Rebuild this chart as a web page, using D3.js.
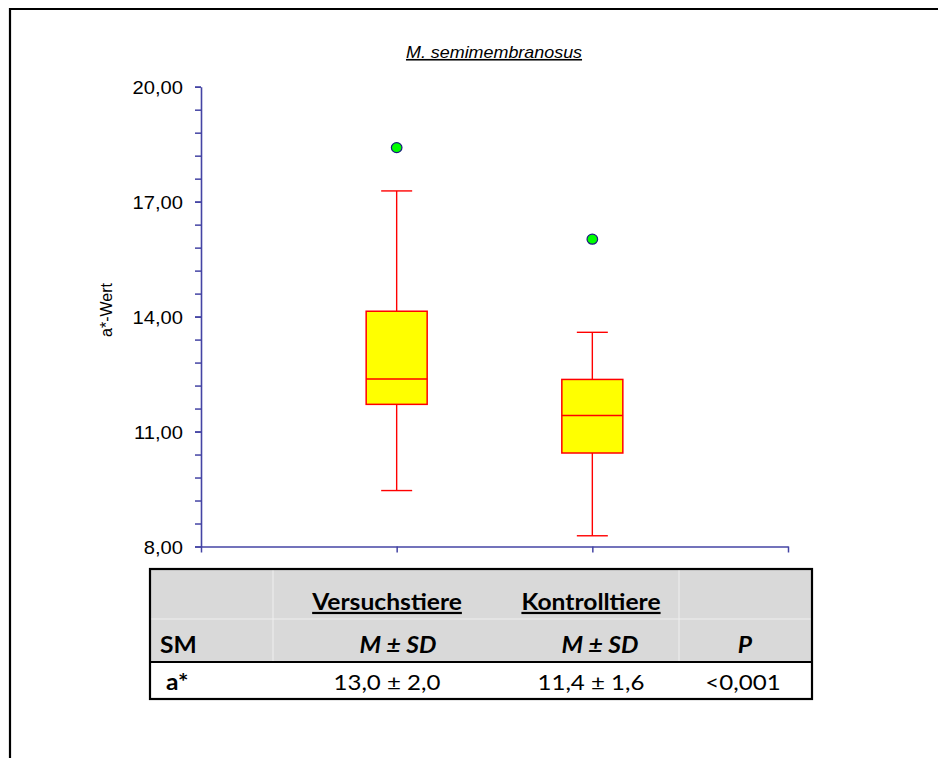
<!DOCTYPE html>
<html>
<head>
<meta charset="utf-8">
<script src="https://cdn.jsdelivr.net/npm/d3@7"></script>
<style>
  html, body { margin: 0; padding: 0; background: #fff; }
  svg { display: block; }
</style>
</head>
<body>
<svg id="chart" width="938" height="758"></svg>
<script>
// a*-Wert, M. semimembranosus: box plot per group plus summary table
const groups = ["Versuchstiere", "Kontrolltiere"];
const groupPos = [1, 2];
const whiskerLow = [9.46, 8.28];
const q1 = [11.71, 10.44];
const median = [12.37, 11.42];
const q3 = [14.14, 12.36];
const whiskerHigh = [17.28, 13.59];
const outliers = [18.41, 16.02];

const yTicks = [8, 11, 14, 17, 20];
const yMinorTicks = d3.range(0, 21).map(i => 8 + i * 0.6);
const xTicks = [0, 1, 2, 3];

const tableMeans = [13.0, 11.4];
const tableSD = [2.0, 1.6];
const pValue = "<0,001";

const de = d3.formatLocale({ decimal: ",", thousands: ".", grouping: [3], currency: ["", " €"] });
const fmt2 = de.format(".2f");
const fmt1 = de.format(".1f");

const svg = d3.select("#chart");
const SX = 1.12; // horizontal text stretch

function stretchedText(parent, x, y, str, opts) {
  const t = parent.append("text")
    .attr("transform", `translate(${x},${y}) scale(${SX},1)`)
    .attr("text-anchor", opts.anchor || "middle")
    .style("font-family", opts.family)
    .style("font-size", opts.size + "px")
    .style("font-weight", opts.weight || "normal")
    .style("font-style", opts.style || "normal")
    .attr("fill", opts.fill || "#000")
    .text(str);
  if (opts.underline) t.style("text-decoration", "underline");
  return t;
}

// outer frame
svg.append("path")
  .attr("d", "M10,760 V9 H940")
  .attr("fill", "none")
  .attr("stroke", "#000")
  .attr("stroke-width", 2.2);

const y = d3.scaleLinear().domain([8, 20]).range([546.5, 86.7]);
const x = d3.scaleLinear().domain([0, 3]).range([201, 788]);
const axisColor = "#4444a4";

// title
stretchedText(svg, 494, 58, "M. semimembranosus",
  { family: "Liberation Sans, Arial, sans-serif", size: 16, style: "italic", underline: true });

// y axis label
svg.append("text")
  .attr("transform", "translate(112,310) rotate(-90)")
  .attr("text-anchor", "middle")
  .style("font-family", "Liberation Sans, Arial, sans-serif")
  .style("font-size", "16px")
  .text("a*-Wert");

// minor y ticks
const yMinor = svg.append("g")
  .attr("transform", `translate(${x(0)},0)`)
  .call(d3.axisLeft(y).tickValues(yMinorTicks).tickSize(6).tickFormat(""));
yMinor.select(".domain").remove();
yMinor.selectAll("line").attr("stroke", axisColor).attr("stroke-width", 1.5);

// major y axis
const yAxis = svg.append("g")
  .attr("transform", `translate(${x(0)},0)`)
  .call(d3.axisLeft(y).tickValues(yTicks).tickSize(6).tickSizeOuter(0).tickPadding(12).tickFormat(fmt2));
yAxis.select(".domain").attr("stroke", axisColor).attr("stroke-width", 1.6);
yAxis.selectAll("line").attr("stroke", axisColor).attr("stroke-width", 1.5);
yAxis.selectAll("text")
  .attr("x", null).attr("dy", null)
  .attr("transform", `translate(-18,6.5) scale(${SX},1)`)
  .style("font-family", "Liberation Sans, Arial, sans-serif")
  .style("font-size", "18px")
  .attr("fill", "#000");

// x axis
const xAxis = svg.append("g")
  .attr("transform", `translate(0,${y(8)})`)
  .call(d3.axisBottom(x).tickValues(xTicks).tickSize(6).tickSizeOuter(0).tickFormat(""));
xAxis.select(".domain").attr("stroke", axisColor).attr("stroke-width", 1.6);
xAxis.selectAll("line").attr("stroke", axisColor).attr("stroke-width", 1.5);

// boxes
const boxW = 61, capW = 31;
const plot = svg.append("g");
groups.forEach((g, i) => {
  const cx = x(groupPos[i]);
  const bg = plot.append("g");
  bg.append("line").attr("x1", cx).attr("x2", cx)
    .attr("y1", y(whiskerHigh[i])).attr("y2", y(q3[i]))
    .attr("stroke", "#ff0000").attr("stroke-width", 1.4);
  bg.append("line").attr("x1", cx).attr("x2", cx)
    .attr("y1", y(q1[i])).attr("y2", y(whiskerLow[i]))
    .attr("stroke", "#ff0000").attr("stroke-width", 1.4);
  [whiskerHigh[i], whiskerLow[i]].forEach(v => {
    bg.append("line").attr("x1", cx - capW / 2).attr("x2", cx + capW / 2)
      .attr("y1", y(v)).attr("y2", y(v))
      .attr("stroke", "#ff0000").attr("stroke-width", 1.4);
  });
  bg.append("rect")
    .attr("x", cx - boxW / 2).attr("width", boxW)
    .attr("y", y(q3[i])).attr("height", y(q1[i]) - y(q3[i]))
    .attr("fill", "#ffff00").attr("stroke", "#ff0000").attr("stroke-width", 1.5);
  bg.append("line").attr("x1", cx - boxW / 2).attr("x2", cx + boxW / 2)
    .attr("y1", y(median[i])).attr("y2", y(median[i]))
    .attr("stroke", "#ff0000").attr("stroke-width", 1.4);
  bg.append("ellipse")
    .attr("cx", cx).attr("cy", y(outliers[i]))
    .attr("rx", 5.3).attr("ry", 5)
    .attr("fill", "#00ff00").attr("stroke", "#1a1a80").attr("stroke-width", 1.2);
});

// summary table
const tL = 150, tR = 812, tT = 569, tMid = 619, tHead = 662, tB = 699;
const tbl = svg.append("g");
tbl.append("rect").attr("x", tL).attr("y", tT).attr("width", tR - tL).attr("height", tHead - tT)
  .attr("fill", "#d9d9d9");
tbl.append("line").attr("x1", tL).attr("x2", tR).attr("y1", tMid).attr("y2", tMid)
  .attr("stroke", "#efefef").attr("stroke-width", 1);
[273, 679].forEach(cx => {
  tbl.append("line").attr("x1", cx).attr("x2", cx).attr("y1", tT).attr("y2", tHead)
    .attr("stroke", "#efefef").attr("stroke-width", 1);
});
tbl.append("line").attr("x1", tL).attr("x2", tR).attr("y1", tHead).attr("y2", tHead)
  .attr("stroke", "#000").attr("stroke-width", 2.2);
tbl.append("rect").attr("x", tL).attr("y", tT).attr("width", tR - tL).attr("height", tB - tT)
  .attr("fill", "none").attr("stroke", "#000").attr("stroke-width", 2.2);

const tf = "Lato, 'Open Sans', sans-serif";
const headCx = [387, 591];
const msdCx = [398, 600];
groups.forEach((g, i) => {
  stretchedText(tbl, headCx[i], 610, g, { family: tf, size: 22, weight: "bold", underline: true });
  stretchedText(tbl, msdCx[i], 653, "M ± SD", { family: tf, size: 22, weight: "bold", style: "italic" });
  stretchedText(tbl, headCx[i], 690, `${fmt1(tableMeans[i])} ± ${fmt1(tableSD[i])}`, { family: tf, size: 21.5 });
});
stretchedText(tbl, 160, 653, "SM", { family: tf, size: 22, weight: "bold", anchor: "start" });
stretchedText(tbl, 745, 653, "P", { family: tf, size: 22, weight: "bold", style: "italic" });
stretchedText(tbl, 166, 690, "a*", { family: tf, size: 22, weight: "bold", anchor: "start" });
stretchedText(tbl, 743, 690, pValue, { family: tf, size: 21.5 });
</script>
</body>
</html>
